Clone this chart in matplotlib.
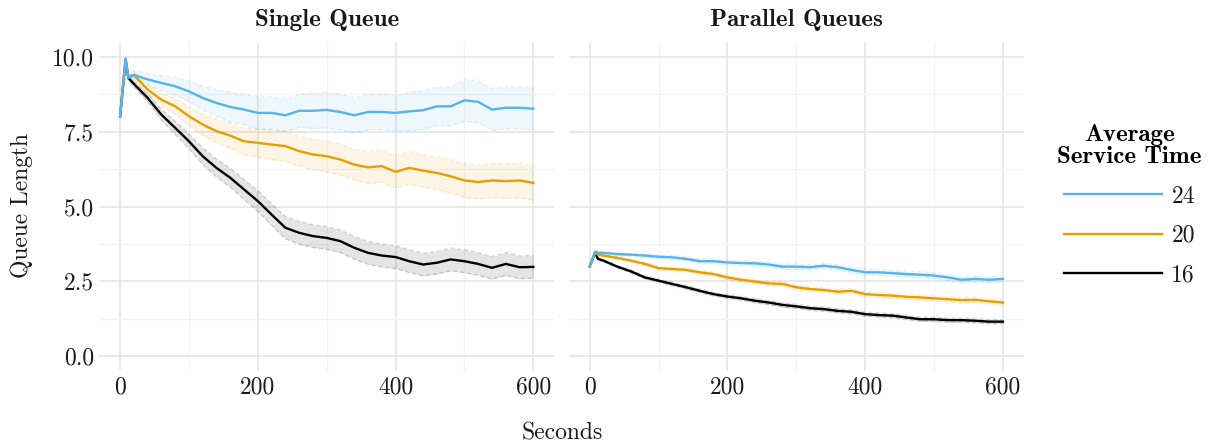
import matplotlib
matplotlib.use("Agg")
import matplotlib.pyplot as plt
from matplotlib.lines import Line2D
import numpy as np

plt.rcParams['font.family'] = ['cmr10', 'DejaVu Serif']
plt.rcParams['axes.formatter.use_mathtext'] = True

# time grid (seconds)
seconds = [0, 8, 12, 20, 40, 60, 80, 100, 120, 140, 160, 180, 200, 220, 240, 260,
           280, 300, 320, 340, 360, 380, 400, 420, 440, 460, 480, 500, 520, 540,
           560, 580, 600]

panels = ["Single Queue", "Parallel Queues"]
service_times = ["24", "20", "16"]
colors = {"24": "#56B4E9", "20": "#E69F00", "16": "#000000"}

# single queue means
single_24 = [8.0, 9.95, 9.3, 9.4, 9.25, 9.13, 9.02, 8.85, 8.63, 8.46, 8.33, 8.24, 8.13,
             8.13, 8.05, 8.2, 8.2, 8.23, 8.16, 8.05, 8.16, 8.16, 8.13, 8.18, 8.22, 8.35,
             8.35, 8.55, 8.5, 8.24, 8.3, 8.3, 8.27]
single_20 = [8.0, 9.9, 9.35, 9.4, 8.91, 8.57, 8.35, 8.02, 7.74, 7.52, 7.37, 7.18, 7.13,
             7.07, 7.02, 6.85, 6.74, 6.68, 6.57, 6.40, 6.31, 6.35, 6.16, 6.29, 6.20, 6.12,
             6.01, 5.87, 5.82, 5.87, 5.85, 5.87, 5.79]
single_16 = [8.0, 9.9, 9.3, 9.1, 8.63, 8.07, 7.63, 7.18, 6.68, 6.29, 5.96, 5.57, 5.18,
             4.73, 4.29, 4.12, 4.01, 3.95, 3.84, 3.62, 3.45, 3.36, 3.31, 3.17, 3.06, 3.12,
             3.23, 3.17, 3.08, 2.95, 3.08, 2.97, 2.98]

# parallel queues means
parallel_24 = [3.0, 3.5, 3.45, 3.45, 3.41, 3.39, 3.36, 3.32, 3.30, 3.25, 3.17, 3.17, 3.13,
               3.11, 3.10, 3.06, 2.99, 2.99, 2.97, 3.02, 2.97, 2.88, 2.80, 2.80, 2.77, 2.74,
               2.72, 2.69, 2.63, 2.55, 2.58, 2.55, 2.58]
parallel_20 = [3.0, 3.45, 3.39, 3.36, 3.28, 3.19, 3.08, 2.94, 2.91, 2.88, 2.80, 2.74, 2.63,
               2.55, 2.49, 2.43, 2.41, 2.30, 2.24, 2.21, 2.15, 2.18, 2.07, 2.04, 2.02, 1.98,
               1.96, 1.93, 1.90, 1.87, 1.88, 1.83, 1.79]
parallel_16 = [3.0, 3.45, 3.25, 3.19, 2.99, 2.83, 2.63, 2.52, 2.41, 2.30, 2.18, 2.07, 1.99,
               1.93, 1.85, 1.79, 1.71, 1.66, 1.60, 1.57, 1.51, 1.48, 1.40, 1.37, 1.35, 1.29,
               1.23, 1.23, 1.20, 1.20, 1.18, 1.15, 1.15]

# ribbon half widths
single_24_ci = [0, 0.05, 0.1, 0.15, 0.2, 0.25, 0.3, 0.35, 0.4, 0.45, 0.5, 0.5, 0.55, 0.55,
                0.55, 0.55, 0.6, 0.6, 0.6, 0.6, 0.6, 0.6, 0.6, 0.65, 0.65, 0.65, 0.65, 0.7,
                0.7, 0.7, 0.7, 0.7, 0.7]
single_20_ci = [0, 0.05, 0.1, 0.12, 0.18, 0.22, 0.27, 0.32, 0.36, 0.4, 0.42, 0.45, 0.48,
                0.5, 0.5, 0.5, 0.52, 0.52, 0.52, 0.52, 0.54, 0.54, 0.54, 0.55, 0.55, 0.55,
                0.56, 0.56, 0.57, 0.57, 0.58, 0.58, 0.58]
single_16_ci = [0, 0.05, 0.08, 0.1, 0.14, 0.18, 0.22, 0.25, 0.28, 0.3, 0.32, 0.33, 0.35,
                0.36, 0.37, 0.38, 0.38, 0.38, 0.38, 0.38, 0.38, 0.38, 0.38, 0.38, 0.38,
                0.38, 0.38, 0.38, 0.38, 0.38, 0.38, 0.38, 0.38]
parallel_24_ci = [0, 0.02, 0.03, 0.04, 0.05, 0.05, 0.06, 0.06, 0.07, 0.07, 0.07, 0.08, 0.08,
                  0.08, 0.08, 0.09, 0.09, 0.09, 0.09, 0.09, 0.1, 0.1, 0.1, 0.1, 0.1, 0.1,
                  0.1, 0.1, 0.1, 0.1, 0.1, 0.1, 0.1]
parallel_20_ci = [0, 0.02, 0.03, 0.04, 0.05, 0.05, 0.06, 0.06, 0.06, 0.07, 0.07, 0.07, 0.07,
                  0.08, 0.08, 0.08, 0.08, 0.08, 0.08, 0.08, 0.09, 0.09, 0.09, 0.09, 0.09,
                  0.09, 0.09, 0.09, 0.09, 0.09, 0.09, 0.09, 0.09]
parallel_16_ci = [0, 0.02, 0.03, 0.04, 0.04, 0.05, 0.05, 0.05, 0.06, 0.06, 0.06, 0.06, 0.06,
                  0.06, 0.07, 0.07, 0.07, 0.07, 0.07, 0.07, 0.07, 0.07, 0.07, 0.07, 0.07,
                  0.07, 0.07, 0.07, 0.07, 0.07, 0.07, 0.07, 0.07]

means = {
    "Single Queue": {"24": single_24, "20": single_20, "16": single_16},
    "Parallel Queues": {"24": parallel_24, "20": parallel_20, "16": parallel_16},
}
half_widths = {
    "Single Queue": {"24": single_24_ci, "20": single_20_ci, "16": single_16_ci},
    "Parallel Queues": {"24": parallel_24_ci, "20": parallel_20_ci, "16": parallel_16_ci},
}

x_ticks = [0, 200, 400, 600]
x_tick_labels = ["0", "200", "400", "600"]
y_ticks = [0, 2.5, 5, 7.5, 10]
y_tick_labels = ["0.0", "2.5", "5.0", "7.5", "10.0"]

FS = 17
W, H = 1211, 442
fig = plt.figure(figsize=(W / 100, H / 100), dpi=100)

axes = [fig.add_axes([99.4 / W, 1 - 371 / H, 454.6 / W, 329 / H]),
        fig.add_axes([569 / W, 1 - 371 / H, 454.6 / W, 329 / H])]

t = np.array(seconds)
for ax, panel in zip(axes, panels):
    for st in ["16", "20", "24"]:
        m = np.array(means[panel][st])
        hw = np.array(half_widths[panel][st])
        c = colors[st]
        ax.fill_between(t, m - hw, m + hw, color=c, alpha=0.1, lw=0)
        ax.plot(t, m - hw, color=c, alpha=0.15, lw=1, ls=(0, (3, 2)))
        ax.plot(t, m + hw, color=c, alpha=0.15, lw=1, ls=(0, (3, 2)))
    for st in ["16", "20", "24"]:
        ax.plot(t, means[panel][st], color=colors[st], lw=1.7, zorder=3)

    ax.set_xlim(-30, 630)
    ax.set_ylim(-0.5, 10.5)
    ax.set_xticks(x_ticks)
    ax.set_xticklabels(x_tick_labels)
    ax.set_xticks([100, 300, 500], minor=True)
    ax.set_yticks(y_ticks)
    ax.set_yticks([1.25, 3.75, 6.25, 8.75], minor=True)
    if panel == "Single Queue":
        ax.set_yticklabels(y_tick_labels)
    else:
        ax.set_yticklabels([])
    ax.tick_params(which="both", length=0, labelsize=FS, pad=4, labelcolor="#1a1a1a")
    ax.grid(which="major", color="#E3E3E3", lw=1.1)
    ax.grid(which="minor", color="#F3F3F3", lw=0.9)
    ax.set_axisbelow(True)
    for s in ax.spines.values():
        s.set_visible(False)
    cx = ax.get_position().x0 + ax.get_position().width / 2
    fig.text(cx, 1 - 20 / H, panel, ha="center", va="center", fontsize=FS + 1,
             family=["cmb10", "DejaVu Serif"], color="#1a1a1a")

fig.text(22 / W, 1 - 206 / H, "Queue Length", rotation=90, ha="center", va="center",
         fontsize=FS, color="#1a1a1a")
fig.text(562 / W, 1 - 433 / H, "Seconds", ha="center", va="center", fontsize=FS,
         color="#1a1a1a")

handles = [Line2D([], [], color=colors[st], lw=1.7) for st in service_times]
leg = fig.legend(handles, service_times, loc="upper left",
                 bbox_to_anchor=(1036 / W, 1 - 103 / H), frameon=False,
                 title="Average\nService Time", fontsize=FS,
                 title_fontproperties={"family": "cmb10", "size": FS + 1},
                 handlelength=4.15, handletextpad=0.4, labelspacing=0.73,
                 alignment="center")
leg.get_title().set_multialignment("center")
leg.get_title().set_linespacing(1.0)
for txt in leg.get_texts():
    txt.set_color("#1a1a1a")

fig.savefig("out.png", dpi=100)
